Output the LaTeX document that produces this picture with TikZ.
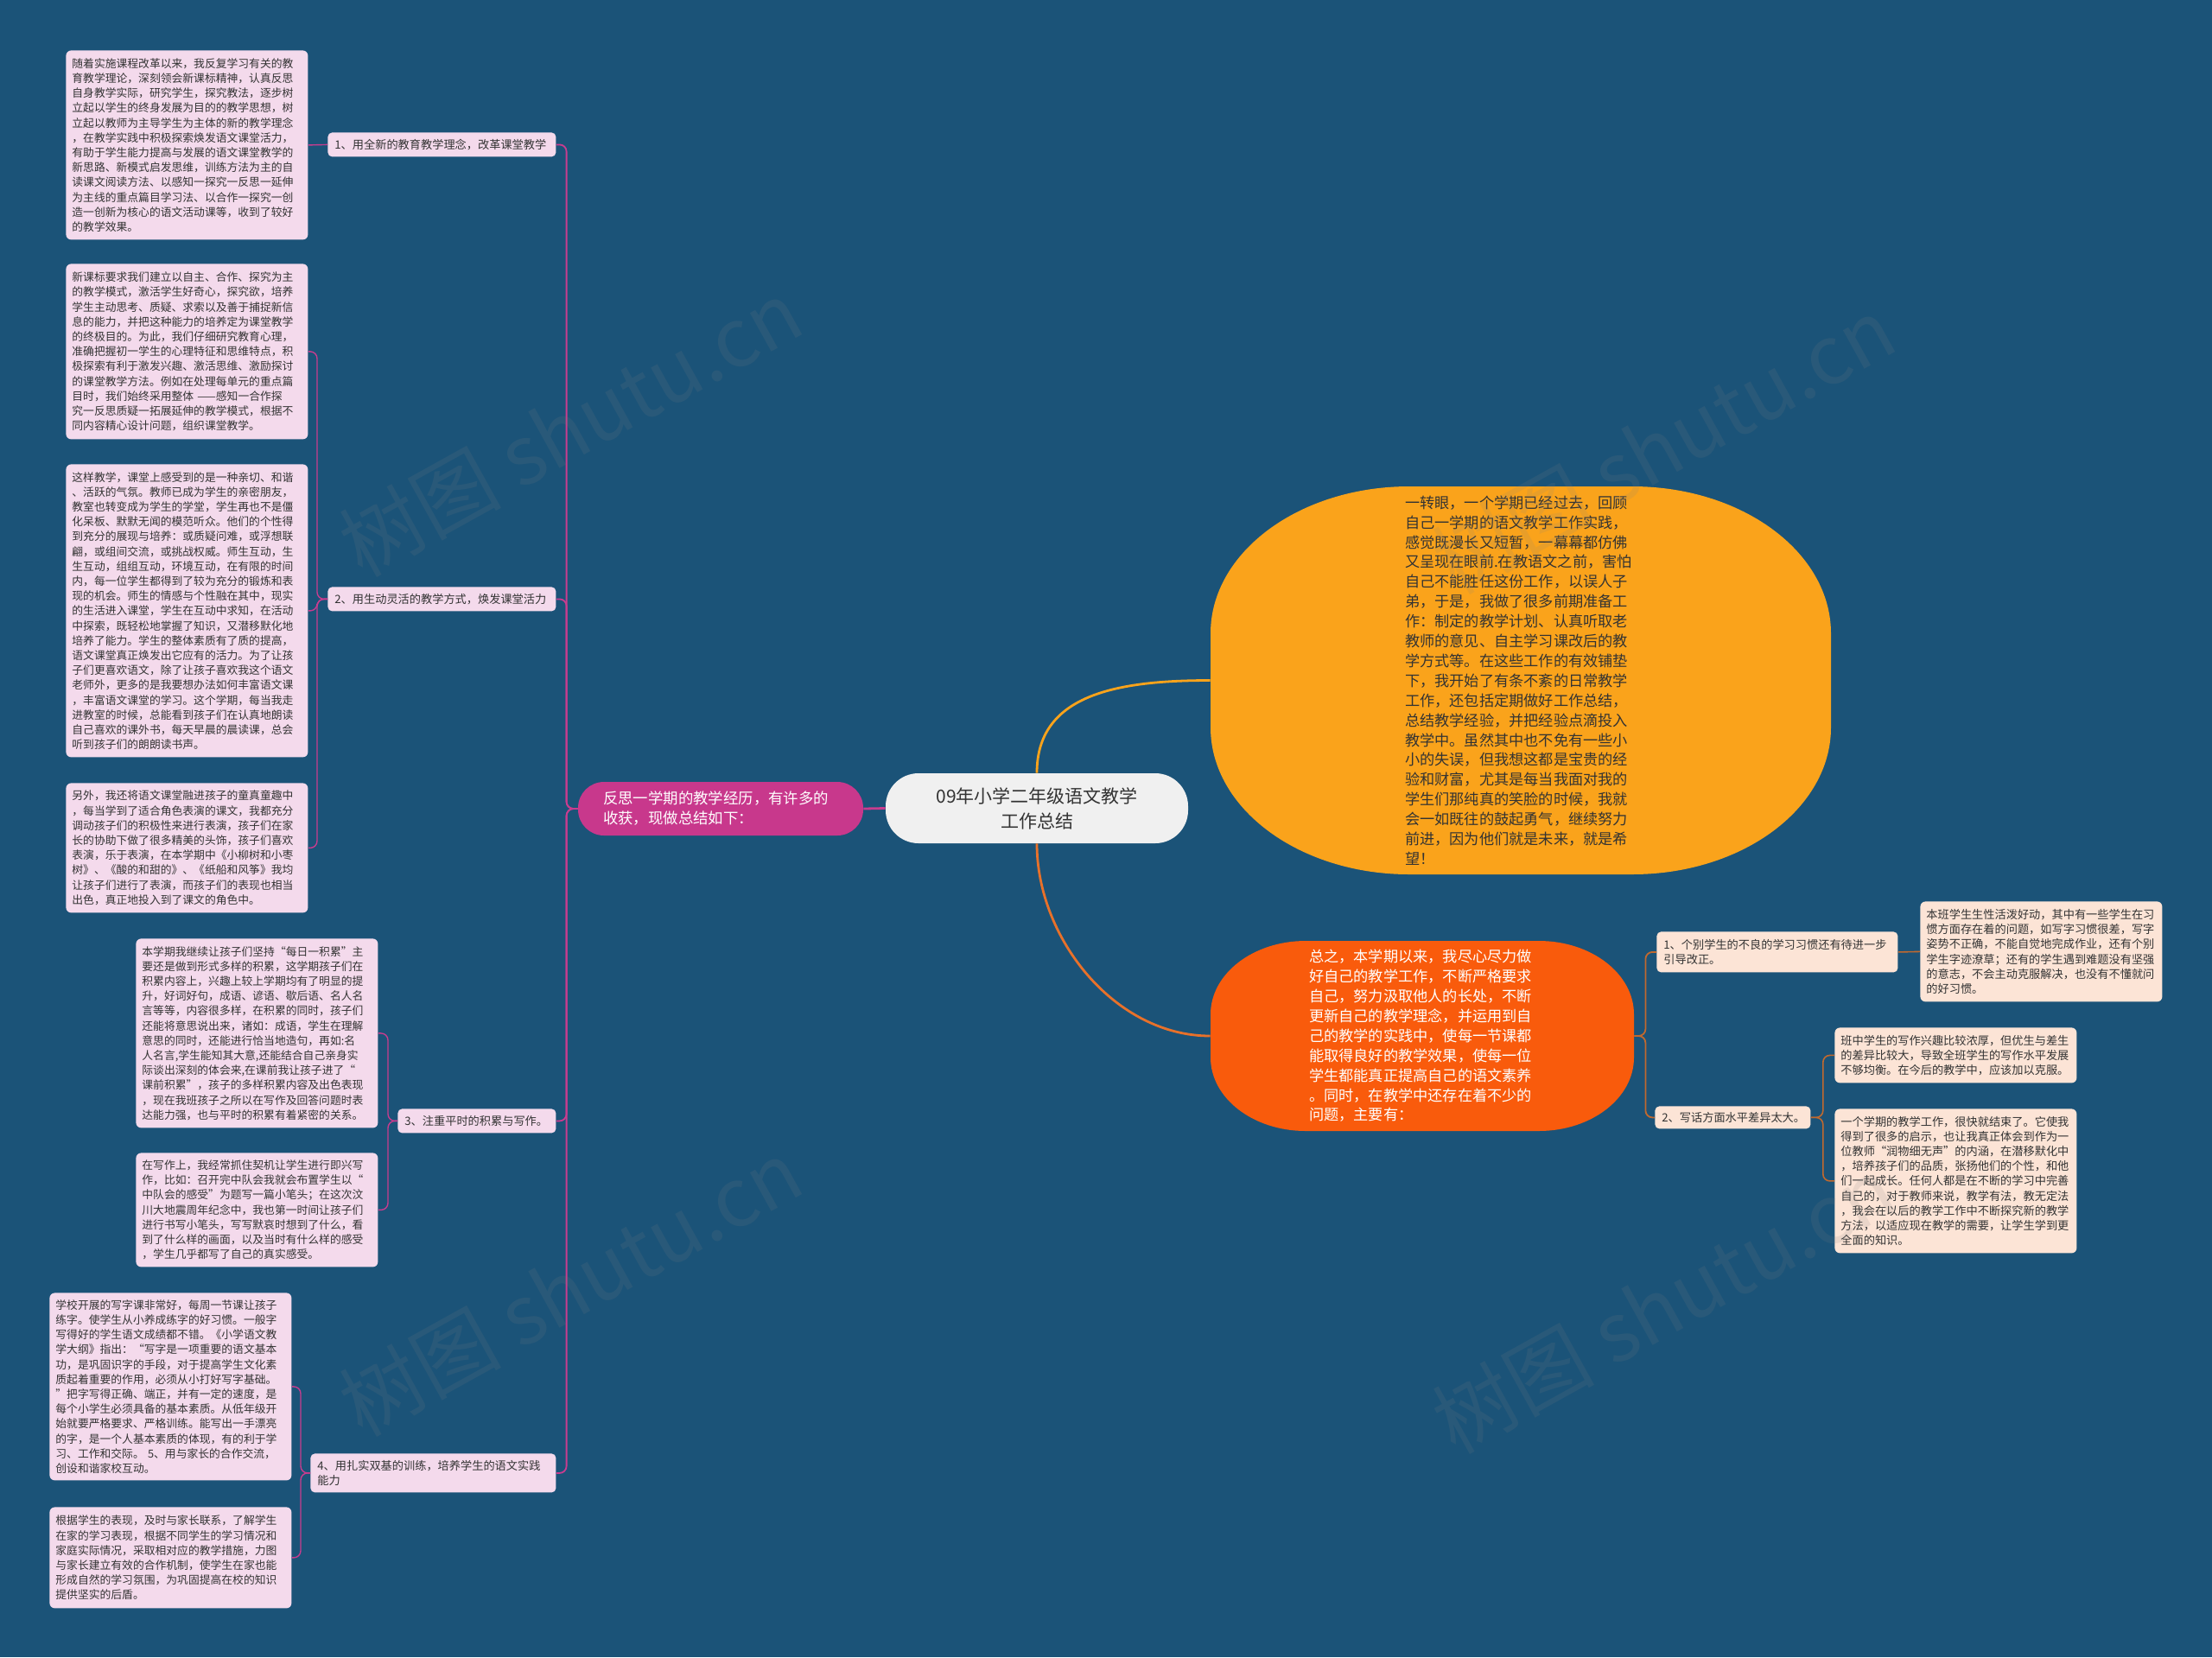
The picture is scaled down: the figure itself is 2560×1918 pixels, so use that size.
\documentclass[tikz,border=0pt]{standalone}
\usepackage{fontspec}
\setmainfont{Noto Sans CJK SC}
\newcommand\myfs[2]{\fontsize{#1}{#2}\selectfont}
\definecolor{bgC}{HTML}{1B5378}
\definecolor{leafL}{HTML}{F4DAEC}
\definecolor{leafR}{HTML}{FCE4D6}
\definecolor{connL}{HTML}{C93C8F}
\definecolor{pinkC}{HTML}{C8388C}
\definecolor{centerC}{HTML}{F0F0F0}
\definecolor{orangeC}{HTML}{FAA31B}
\definecolor{redC}{HTML}{F95B0C}
\definecolor{redLine}{HTML}{E8712A}
\definecolor{brownC}{HTML}{C0692F}
\definecolor{txtD}{HTML}{333333}
\newcommand\softshape[7]{%
\fill[#1] (#2+#6,#3) -- (#4-#6,#3)
 .. controls (#4-0.4477*#6,#3) and (#4,#3+0.4477*#7) .. (#4,#3+#7)
 -- (#4,#5-#7)
 .. controls (#4,#5-0.4477*#7) and (#4-0.4477*#6,#5) .. (#4-#6,#5)
 -- (#2+#6,#5)
 .. controls (#2+0.4477*#6,#5) and (#2,#5-0.4477*#7) .. (#2,#5-#7)
 -- (#2,#3+#7)
 .. controls (#2,#3+0.4477*#7) and (#2+0.4477*#6,#3) .. (#2+#6,#3) -- cycle;}
\begin{document}
\begin{tikzpicture}[x=0.5pt,y=-0.5pt,
  leafl/.style={anchor=north west, fill=leafL, rounded corners=3pt, inner xsep=3.5pt, inner ysep=0pt,
     text width=133pt, align=left, font=\myfs{6.4}{8.6}, text=txtD},
  leafr/.style={anchor=north west, fill=leafR, rounded corners=3pt, inner xsep=3.5pt, inner ysep=0pt,
     text width=133pt, align=left, font=\myfs{6.6}{8.6}, text=txtD},
  lbll/.style={anchor=north west, fill=leafL, rounded corners=2.5pt, inner xsep=4pt, inner ysep=0pt,
     align=left, font=\myfs{6.6}{8.8}, text=txtD},
  lblr/.style={anchor=north west, fill=leafR, rounded corners=2.5pt, inner xsep=4pt, inner ysep=0pt,
     align=left, font=\myfs{6.6}{8.8}, text=txtD},
  bigtext/.style={inner sep=0pt, align=left, font=\myfs{8.6}{11.45}},
  connl/.style={draw=connL, line width=0.9pt, rounded corners=4pt},
  connleaf/.style={draw=connL, line width=0.7pt, rounded corners=4pt},
  connr/.style={draw=brownC, line width=0.8pt, rounded corners=4pt},
  wm/.style={font=\myfs{47}{47}, text=gray, text opacity=0.14, inner sep=0pt}
]
\useasboundingbox (0,0) rectangle (2560,1918);
\fill[bgC] (0,0) rectangle (2560,1918);

% big shapes
\softshape{orangeC}{1401}{563}{2119}{1012}{230}{170}
\softshape{redC}{1401}{1089}{1891}{1309}{110}{85}

% center & level 1
\node[fill=centerC, rounded corners=19pt, minimum width=175pt, minimum height=40.5pt, inner sep=0pt,
      align=center, font=\myfs{10.5}{14.5}, text=txtD] (C) at (1200,935.5) {09年小学二年级语文教学\\工作总结};
\node[fill=pinkC, rounded corners=15pt, minimum width=165pt, minimum height=31pt, inner sep=0pt,
      text width=136pt, align=left, font=\myfs{8.7}{11.5}, text=white] (P) at (834,936) {反思一学期的教学经历，有许多的\\收获，现做总结如下：};
\node[bigtext, text=txtD, text width=134pt, minimum width=359pt, minimum height=224.5pt] (O) at (1760,787.5) {一转眼，一个学期已经过去，回顾\\
自己一学期的语文教学工作实践，\\
感觉既漫长又短暂，一幕幕都仿佛\\
又呈现在眼前.在教语文之前，害怕\\
自己不能胜任这份工作，以误人子\\
弟，于是，我做了很多前期准备工\\
作：制定的教学计划、认真听取老\\
教师的意见、自主学习课改后的教\\
学方式等。在这些工作的有效铺垫\\
下，我开始了有条不紊的日常教学\\
工作，还包括定期做好工作总结，\\
总结教学经验，并把经验点滴投入\\
教学中。虽然其中也不免有一些小\\
小的失误，但我想这都是宝贵的经\\
验和财富，尤其是每当我面对我的\\
学生们那纯真的笑脸的时候，我就\\
会一如既往的鼓起勇气，继续努力\\
前进，因为他们就是未来，就是希\\
望！};
\node[bigtext, text=white, text width=131pt, minimum width=245pt, minimum height=110pt] (R) at (1646,1199) {总之，本学期以来，我尽心尽力做\\
好自己的教学工作，不断严格要求\\
自己，努力汲取他人的长处，不断\\
更新自己的教学理念，并运用到自\\
己的教学的实践中，使每一节课都\\
能取得良好的教学效果，使每一位\\
学生都能真正提高自己的语文素养\\
。同时，在教学中还存在着不少的\\
问题，主要有：};

% left labels
\node[lbll, text width=124pt, minimum height=14pt] (B1) at (379,153) {1、用全新的教育教学理念，改革课堂教学};
\node[lbll, text width=124pt, minimum height=14pt] (B2) at (379,679) {2、用生动灵活的教学方式，焕发课堂活力};
\node[lbll, text width=83.5pt, minimum height=14pt] (B3) at (460,1283) {3、注重平时的积累与写作。};
\node[lbll, text width=134pt, minimum height=22.5pt] (B4) at (359,1682) {4、用扎实双基的训练，培养学生的语文实践\\能力};

% left leaves
\node[leafl, minimum height=109.5pt] (L1) at (76,58) {随着实施课程改革以来，我反复学习有关的教\\
育教学理论，深刻领会新课标精神，认真反思\\
自身教学实际，研究学生，探究教法，逐步树\\
立起以学生的终身发展为目的的教学思想，树\\
立起以教师为主导学生为主体的新的教学理念\\
，在教学实践中积极探索焕发语文课堂活力，\\
有助于学生能力提高与发展的语文课堂教学的\\
新思路、新模式启发思维，训练方法为主的自\\
读课文阅读方法、以感知一探究一反思一延伸\\
为主线的重点篇目学习法、以合作一探究一创\\
造一创新为核心的语文活动课等，收到了较好\\
的教学效果。};
\node[leafl, minimum height=101.5pt] (L2) at (76,305) {新课标要求我们建立以自主、合作、探究为主\\
的教学模式，激活学生好奇心，探究欲，培养\\
学生主动思考、质疑、求索以及善于捕捉新信\\
息的能力，并把这种能力的培养定为课堂教学\\
的终极目的。为此，我们仔细研究教育心理，\\
准确把握初一学生的心理特征和思维特点，积\\
极探索有利于激发兴趣、激活思维、激励探讨\\
的课堂教学方法。例如在处理每单元的重点篇\\
目时，我们始终采用整体 ——感知一合作探\\
究一反思质疑一拓展延伸的教学模式，根据不\\
同内容精心设计问题，组织课堂教学。};
\node[leafl, minimum height=169.5pt] (L3) at (76,537) {这样教学，课堂上感受到的是一种亲切、和谐\\
、活跃的气氛。教师已成为学生的亲密朋友，\\
教室也转变成为学生的学堂，学生再也不是僵\\
化呆板、默默无闻的模范听众。他们的个性得\\
到充分的展现与培养：或质疑问难，或浮想联\\
翩，或组间交流，或挑战权威。师生互动，生\\
生互动，组组互动，环境互动，在有限的时间\\
内，每一位学生都得到了较为充分的锻炼和表\\
现的机会。师生的情感与个性融在其中，现实\\
的生活进入课堂，学生在互动中求知，在活动\\
中探索，既轻松地掌握了知识，又潜移默化地\\
培养了能力。学生的整体素质有了质的提高，\\
语文课堂真正焕发出它应有的活力。为了让孩\\
子们更喜欢语文，除了让孩子喜欢我这个语文\\
老师外，更多的是我要想办法如何丰富语文课\\
，丰富语文课堂的学习。这个学期，每当我走\\
进教室的时候，总能看到孩子们在认真地朗读\\
自己喜欢的课外书，每天早晨的晨读课，总会\\
听到孩子们的朗朗读书声。};
\node[leafl, minimum height=75pt] (L4) at (76,906) {另外，我还将语文课堂融进孩子的童真童趣中\\
，每当学到了适合角色表演的课文，我都充分\\
调动孩子们的积极性来进行表演，孩子们在家\\
长的协助下做了很多精美的头饰，孩子们喜欢\\
表演，乐于表演，在本学期中《小柳树和小枣\\
树》、《酸的和甜的》、《纸船和风筝》我均\\
让孩子们进行了表演，而孩子们的表现也相当\\
出色，真正地投入到了课文的角色中。};
\node[leafl, minimum height=109.5pt] (L5) at (157,1086) {本学期我继续让孩子们坚持“每日一积累”主\\
要还是做到形式多样的积累，这学期孩子们在\\
积累内容上，兴趣上较上学期均有了明显的提\\
升，好词好句，成语、谚语、歇后语、名人名\\
言等等，内容很多样，在积累的同时，孩子们\\
还能将意思说出来，诸如：成语，学生在理解\\
意思的同时，还能进行恰当地造句，再如:名\\
人名言,学生能知其大意,还能结合自己亲身实\\
际谈出深刻的体会来,在课前我让孩子进了“\\
课前积累”，孩子的多样积累内容及出色表现\\
，现在我班孩子之所以在写作及回答问题时表\\
达能力强，也与平时的积累有着紧密的关系。};
\node[leafl, minimum height=66pt] (L6) at (157,1334) {在写作上，我经常抓住契机让学生进行即兴写\\
作，比如：召开完中队会我就会布置学生以“\\
中队会的感受”为题写一篇小笔头；在这次汶\\
川大地震周年纪念中，我也第一时间让孩子们\\
进行书写小笔头，写写默哀时想到了什么，看\\
到了什么样的画面，以及当时有什么样的感受\\
，学生几乎都写了自己的真实感受。};
\node[leafl, minimum height=108.5pt] (L7) at (57,1496) {学校开展的写字课非常好，每周一节课让孩子\\
练字。使学生从小养成练字的好习惯。一般字\\
写得好的学生语文成绩都不错。《小学语文教\\
学大纲》指出：“写字是一项重要的语文基本\\
功，是巩固识字的手段，对于提高学生文化素\\
质起着重要的作用，必须从小打好写字基础。\\
”把字写得正确、端正，并有一定的速度，是\\
每个小学生必须具备的基本素质。从低年级开\\
始就要严格要求、严格训练。能写出一手漂亮\\
的字，是一个人基本素质的体现，有的利于学\\
习、工作和交际。 5、用与家长的合作交流，\\
创设和谐家校互动。};
\node[leafl, minimum height=58.5pt] (L8) at (57,1744) {根据学生的表现，及时与家长联系，了解学生\\
在家的学习表现，根据不同学生的学习情况和\\
家庭实际情况，采取相对应的教学措施，力图\\
与家长建立有效的合作机制，使学生在家也能\\
形成自然的学习氛围，为巩固提高在校的知识\\
提供坚实的后盾。};

% right labels and leaves
\node[lblr, text width=131.5pt, minimum height=23.5pt] (RB1) at (1917,1078) {1、个别学生的不良的学习习惯还有待进一步\\引导改正。};
\node[lblr, text width=82pt, minimum height=13pt] (RB2) at (1915,1280) {2、写话方面水平差异太大。};
\node[leafr, minimum height=58pt] (R1) at (2222,1043) {本班学生生性活泼好动，其中有一些学生在习\\
惯方面存在着的问题，如写字习惯很差，写字\\
姿势不正确，不能自觉地完成作业，还有个别\\
学生字迹潦草；还有的学生遇到难题没有坚强\\
的意志，不会主动克服解决，也没有不懂就问\\
的好习惯。};
\node[leafr, minimum height=32pt] (R2a) at (2123,1189) {班中学生的写作兴趣比较浓厚，但优生与差生\\
的差异比较大，导致全班学生的写作水平发展\\
不够均衡。在今后的教学中，应该加以克服。};
\node[leafr, minimum height=83.5pt] (R2b) at (2123,1283) {一个学期的教学工作，很快就结束了。它使我\\
得到了很多的启示，也让我真正体会到作为一\\
位教师“润物细无声”的内涵，在潜移默化中\\
，培养孩子们的品质，张扬他们的个性，和他\\
们一起成长。任何人都是在不断的学习中完善\\
自己的，对于教师来说，教学有法，教无定法\\
，我会在以后的教学工作中不断探究新的教学\\
方法，以适应现在教学的需要，让学生学到更\\
全面的知识。};

% connectors: center
\draw[draw=connL, line width=1.4pt] (C.west) -- (P.east);
\draw[draw=orangeC, line width=1.4pt] (C.north) .. controls +(0,-90) and +(-110,0) .. (O.west);
\draw[draw=redLine, line width=1.4pt] (C.south) .. controls +(0,110) and +(-110,0) .. (R.west);

% left connectors
\draw[connl] (P.west) -- ++(-13,0) |- (B1.east);
\draw[connl] (P.west) -- ++(-13,0) |- (B2.east);
\draw[connl] (P.west) -- ++(-13,0) |- (B3.east);
\draw[connl] (P.west) -- ++(-13,0) |- (B4.east);
\draw[connleaf] (B1.west) -- (L1.east);
\draw[connleaf] (B2.west) -- ++(-12,0) |- (L2.east);
\draw[connleaf] (B2.west) -- ++(-12,0) |- (L3.east);
\draw[connleaf] (B2.west) -- ++(-12,0) |- (L4.east);
\draw[connleaf] (B3.west) -- ++(-11,0) |- (L5.east);
\draw[connleaf] (B3.west) -- ++(-11,0) |- (L6.east);
\draw[connleaf] (B4.west) -- ++(-11,0) |- (L7.east);
\draw[connleaf] (B4.west) -- ++(-11,0) |- (L8.east);

% right connectors
\draw[connr, line width=0.9pt] (R.east) -- ++(13,0) |- (RB1.west);
\draw[connr, line width=0.9pt] (R.east) -- ++(13,0) |- (RB2.west);
\draw[connr] (RB1.east) -- (R1.west);
\draw[connr] (RB2.east) -- ++(14,0) |- (R2a.west);
\draw[connr] (RB2.east) -- ++(14,0) |- (R2b.west);

% watermarks
\node[wm, rotate=29] (wm1) at (660,495) {树图 shutu.cn};
\node[wm, rotate=29] (wm2) at (1925,515) {树图 shutu.cn};
\node[wm, rotate=29] (wm3) at (660,1490) {树图 shutu.cn};
\node[wm, rotate=29] (wm4) at (1925,1510) {树图 shutu.cn};
\end{tikzpicture}
\end{document}
